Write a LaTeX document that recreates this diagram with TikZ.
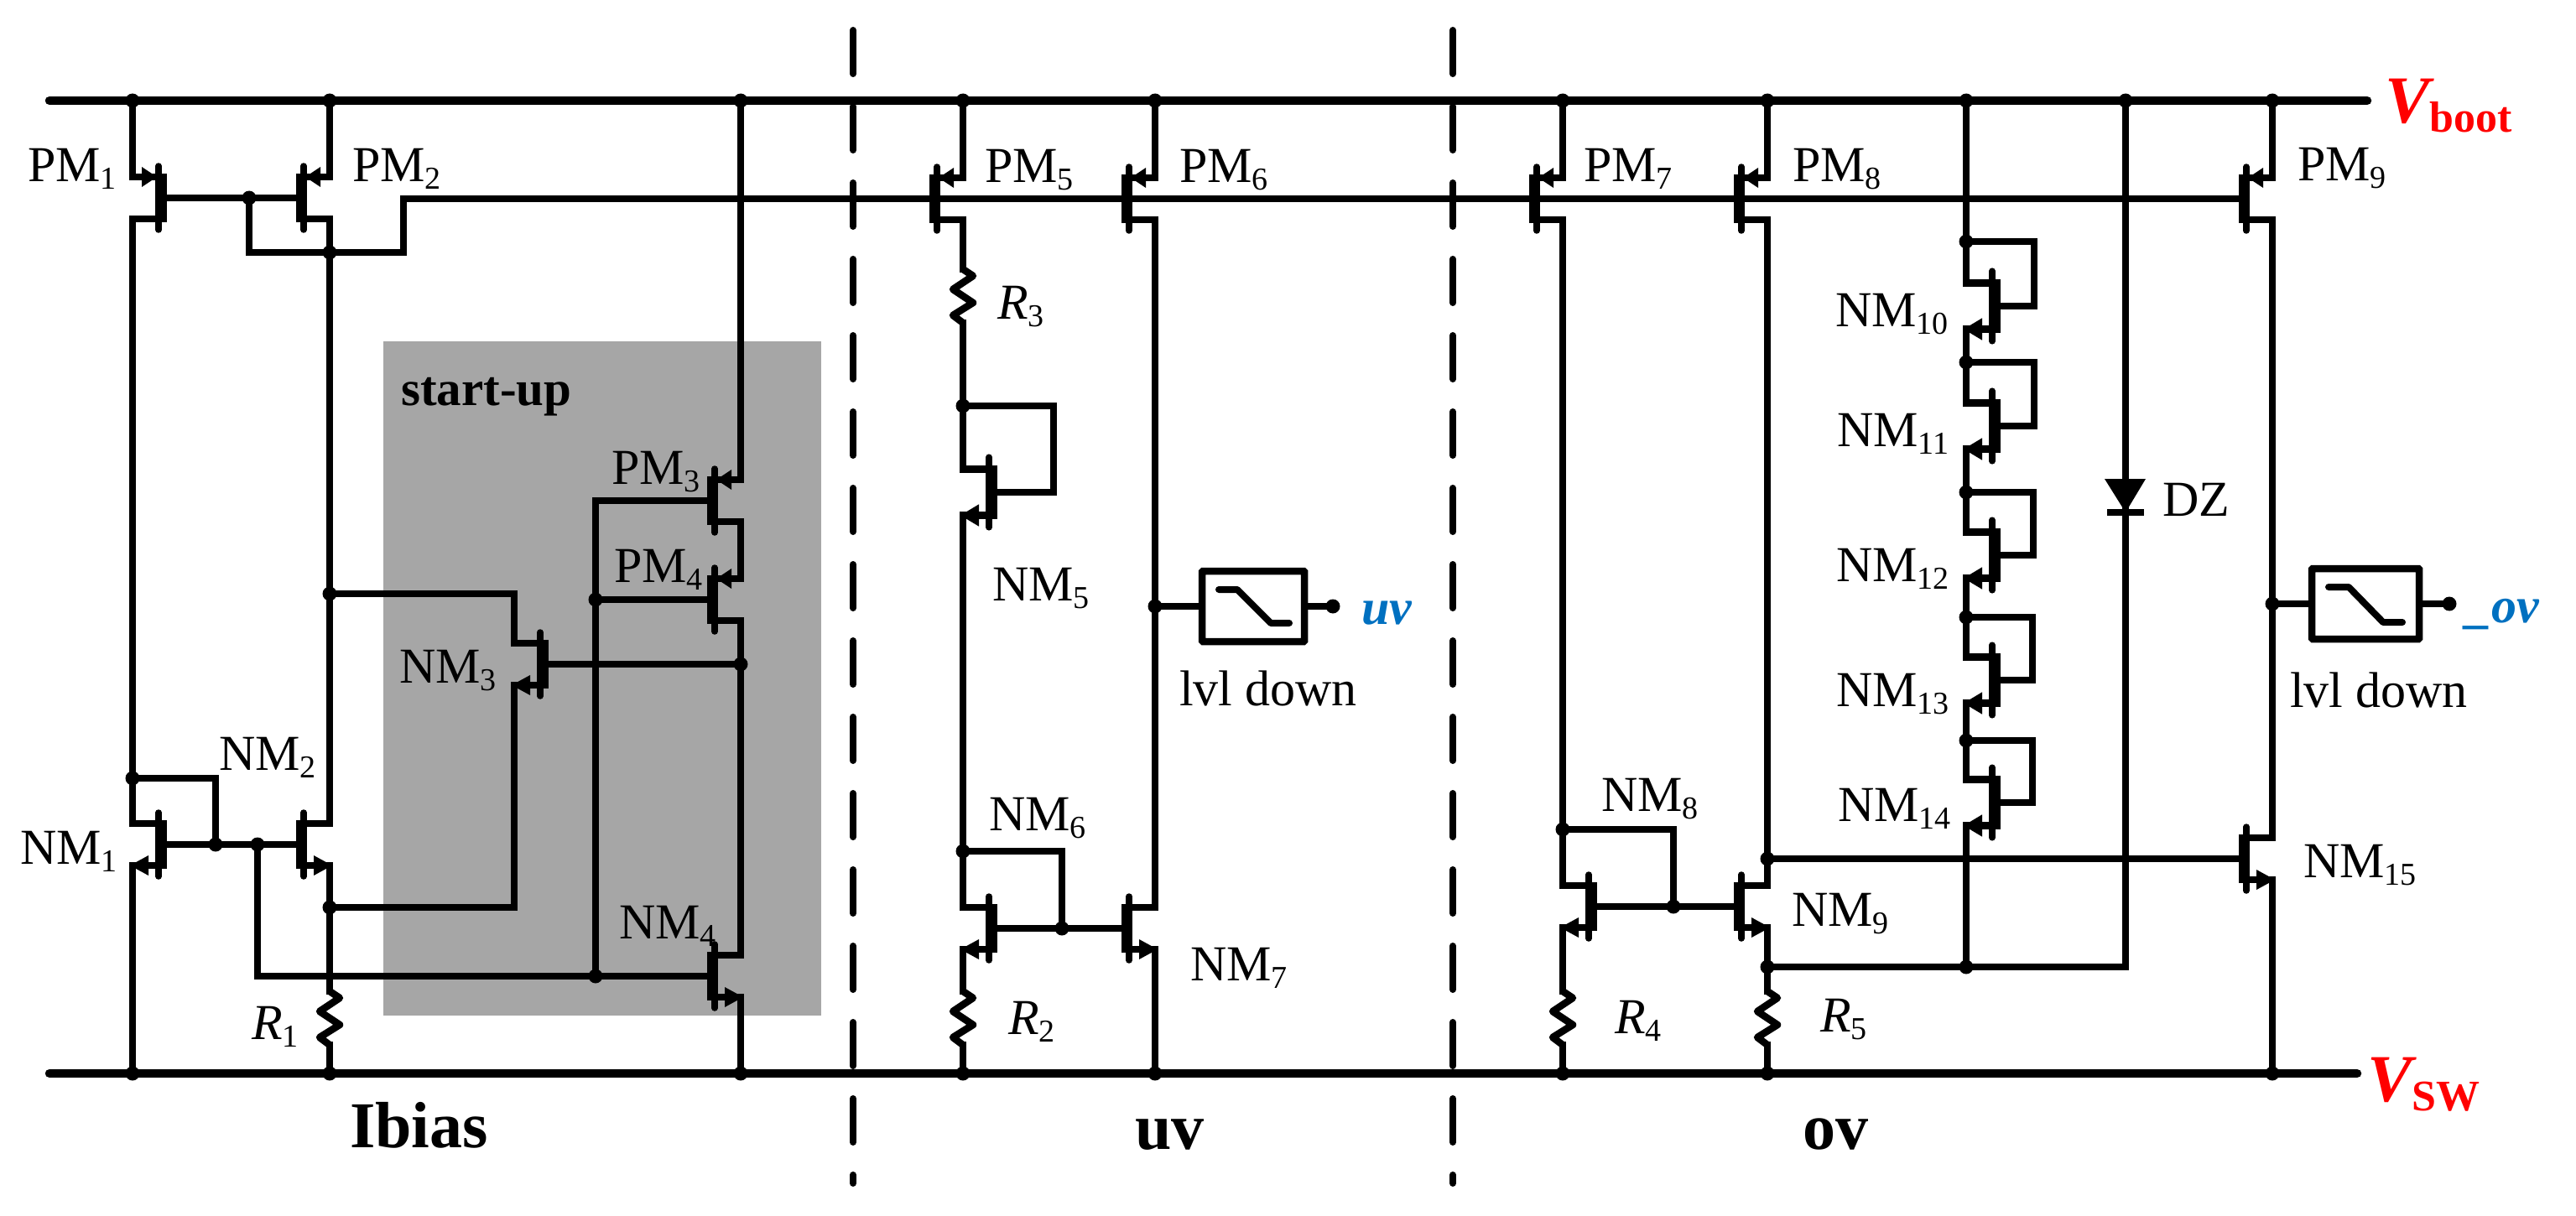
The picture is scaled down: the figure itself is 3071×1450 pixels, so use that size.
\documentclass[tikz,border=0pt]{standalone}
\usepackage{fontspec}
\setmainfont{Liberation Serif}
\definecolor{startgray}{HTML}{A6A6A6}
\definecolor{flagblue}{HTML}{0070C0}

\newcommand{\mosname}[2]{#1\raisebox{-9pt}{\fontsize{38}{38}\selectfont #2}}
\newcommand{\resname}[1]{\textit{R}\raisebox{-9pt}{\fontsize{38}{38}\selectfont #1}}
\newcommand{\railname}[1]{{\fontsize{80}{80}\selectfont\bfseries\itshape V}\raisebox{-11pt}{\fontsize{52}{52}\selectfont\bfseries #1}}

\tikzset{
  wire/.style={line width=8.5pt,line cap=rect,line join=miter},
  rail/.style={line width=10.5pt,line cap=round},
  cut/.style={line width=8pt,line cap=round,dash pattern=on 52pt off 39pt},
  lab/.style={anchor=base west,inner sep=0pt,font=\fontsize{60}{60}\selectfont},
  part/.style={anchor=base west,inner sep=0pt,font=\fontsize{78}{78}\selectfont\bfseries},
  flag/.style={lab,text=flagblue,font=\fontsize{60}{60}\selectfont\bfseries\itshape},
  lvlbox/.style={draw,line width=8.5pt,minimum width=122pt,minimum height=84pt,inner sep=0pt,rounded corners=1pt},
  lvlsym/.style={line width=8pt,line cap=round,line join=round},
  pmosr/.pic={
    \draw[line width=7.5pt,line cap=round] (-31,-38) -- (-31,38);
    \draw[line width=13pt] (-34,-29) -- (-34,29);
    \draw[wire] (-31,-25) -- (0,-25);
    \draw[wire] (-31,25) -- (0,25);
    \fill (-29,-25) -- (-11,-37) -- (-11,-13) -- cycle;
    \coordinate (-g) at (-34,0);
    \coordinate (-s) at (0,-25);
    \coordinate (-d) at (0,25);
  },
  nmosr/.pic={
    \draw[line width=7.5pt,line cap=round] (-31,-38) -- (-31,38);
    \draw[line width=13pt] (-34,-29) -- (-34,29);
    \draw[wire] (-31,-25) -- (0,-25);
    \draw[wire] (-31,25) -- (-10,25);
    \fill (3,25) -- (-19,13) -- (-19,37) -- cycle;
    \coordinate (-g) at (-34,0);
    \coordinate (-d) at (0,-25);
    \coordinate (-s) at (0,25);
  },
  resv/.pic={
    \draw[line width=8.5pt,line join=round] (0,-32) -- (12,-24) -- (-12,-8) -- (12,8) -- (-12,23) -- (0,32);
    \coordinate (-t) at (0,-32);
    \coordinate (-b) at (0,32);
  },
}

\begin{document}
\begin{tikzpicture}[x=1pt,y=-1pt]
\useasboundingbox (0,0) rectangle (3071,1450);

% start-up area
\fill[startgray] (457,407) rectangle (979,1211);

% rails
\coordinate (bootL) at (59,120);
\coordinate (bootR) at (2822,120);
\coordinate (swL) at (59,1280);
\coordinate (swR) at (2810,1280);
\draw[rail] (bootL) -- (bootR);
\draw[rail] (swL) -- (swR);
\foreach \n/\x in {1/158,2/393,3/883,5/1148,6/1377,7/1863,8/2107,9/2344,10/2534,11/2709}{
  \coordinate (top\n) at (\x,120);
  \coordinate (bot\n) at (\x,1280);
}

% section cuts
\coordinate (cutAt) at (1017,36);
\coordinate (cutAb) at (1017,1411);
\coordinate (cutBt) at (1732,36);
\coordinate (cutBb) at (1732,1411);
\draw[cut] (cutAt) -- (cutAb);
\draw[cut] (cutBt) -- (cutBb);

% transistors
\pic[xscale=-1] (PM1) at (158,236) {pmosr};
\pic (PM2) at (393,236) {pmosr};
\pic (PM3) at (883,597) {pmosr};
\pic (PM4) at (883,715) {pmosr};
\pic (PM5) at (1148,237) {pmosr};
\pic (PM6) at (1377,237) {pmosr};
\pic (PM7) at (1863,237) {pmosr};
\pic (PM8) at (2107,237) {pmosr};
\pic (PM9) at (2709,237) {pmosr};

\pic[xscale=-1] (NM1) at (158,1007) {nmosr};
\pic (NM2) at (393,1007) {nmosr};
\pic[xscale=-1] (NM3) at (613,792) {nmosr};
\pic (NM4) at (883,1164) {nmosr};
\pic[xscale=-1,yscale=1.1] (NM5) at (1148,587) {nmosr};
\pic[xscale=-1] (NM6) at (1148,1107) {nmosr};
\pic (NM7) at (1377,1107) {nmosr};
\pic[xscale=-1] (NM8) at (1863,1081) {nmosr};
\pic (NM9) at (2107,1081) {nmosr};
\pic[xscale=-1,yscale=1.1] (NM10) at (2344,365) {nmosr};
\pic[xscale=-1,yscale=1.1] (NM11) at (2344,508) {nmosr};
\pic[xscale=-1,yscale=1.1] (NM12) at (2344,662) {nmosr};
\pic[xscale=-1,yscale=1.1] (NM13) at (2344,811) {nmosr};
\pic[xscale=-1,yscale=1.1] (NM14) at (2344,957) {nmosr};
\pic (NM15) at (2709,1024) {nmosr};

% resistors
\pic (R1) at (393,1214) {resv};
\pic (R2) at (1148,1214) {resv};
\pic (R3) at (1148,353) {resv};
\pic (R4) at (1863,1214) {resv};
\pic (R5) at (2107,1214) {resv};

% junctions
\coordinate (jg1) at (297,236);
\coordinate (jd2) at (393,301);
\coordinate (gbus) at (481,237);
\coordinate (jn1) at (158,928);
\coordinate (jn1g) at (257,1007);
\coordinate (jn2g) at (307,1007);
\coordinate (jn3d) at (393,708);
\coordinate (jn3s) at (393,1082);
\coordinate (jn3g) at (883,792);
\coordinate (jp4) at (710,715);
\coordinate (jn4) at (710,1164);
\coordinate (ju5) at (1148,484);
\coordinate (ju5g) at (1256,484);
\coordinate (ju6) at (1148,1015);
\coordinate (ju7) at (1266,1107);
\coordinate (ju8) at (1377,723);
\coordinate (jo1) at (1863,989);
\coordinate (jo2) at (1995,1081);
\coordinate (jo3) at (2107,1024);
\coordinate (jo4) at (2107,1153);
\coordinate (jo5) at (2344,1153);
\coordinate (jo6) at (2709,720);

% Ibias
\draw[wire] (top1) -- (PM1-s);
\draw[wire] (top2) -- (PM2-s);
\draw[wire] (PM1-g) -- (PM2-g);
\draw[wire] (jg1) |- (jd2) -| (gbus) -- (PM9-g);
\draw[wire] (PM1-d) -- (NM1-d);
\draw[wire] (PM2-d) -- (NM2-d);
\draw[wire] (jn1) -| (jn1g);
\draw[wire] (NM1-g) -- (NM2-g);
\draw[wire] (jn2g) |- (NM4-g);
\draw[wire] (NM1-s) -- (bot1);
\draw[wire] (NM2-s) -- (R1-t);
\draw[wire] (R1-b) -- (bot2);
\draw[wire] (jn3d) -| (NM3-d);
\draw[wire] (jn3s) -| (NM3-s);
\draw[wire] (top3) -- (PM3-s);
\draw[wire] (PM3-d) -- (PM4-s);
\draw[wire] (PM4-d) -- (NM4-d);
\draw[wire] (NM4-s) -- (bot3);
\draw[wire] (NM3-g) -- (jn3g);
\draw[wire] (PM3-g) -| (jn4);
\draw[wire] (jp4) -- (PM4-g);

% uv
\draw[wire] (top5) -- (PM5-s);
\draw[wire] (top6) -- (PM6-s);
\draw[wire] (PM5-d) -- (R3-t);
\draw[wire] (R3-b) -- (NM5-d);
\draw[wire] (ju5) -- (ju5g) |- (NM5-g);
\draw[wire] (NM5-s) -- (NM6-d);
\draw[wire] (ju6) -| (ju7);
\draw[wire] (NM6-g) -- (NM7-g);
\draw[wire] (NM6-s) -- (R2-t);
\draw[wire] (R2-b) -- (bot5);
\draw[wire] (NM7-s) -- (bot6);
\draw[wire] (PM6-d) -- (NM7-d);
\node[lvlbox] (LV1) at (1494,723) {};
\coordinate (out1) at (1589,723);
\draw[wire] (ju8) -- (LV1.west);
\draw[wire] (LV1.east) -- (out1);
\draw[lvlsym] ([shift={(-41,-20)}]LV1.center) -- ++(22,0) -- ++(40,40) -- ++(22,0);

% ov
\draw[wire] (top7) -- (PM7-s);
\draw[wire] (top8) -- (PM8-s);
\draw[wire] (PM7-d) -- (NM8-d);
\draw[wire] (jo1) -| (jo2);
\draw[wire] (NM8-g) -- (NM9-g);
\draw[wire] (NM8-s) -- (R4-t);
\draw[wire] (R4-b) -- (bot7);
\draw[wire] (PM8-d) -- (NM9-d);
\draw[wire] (jo3) -- (NM15-g);
\draw[wire] (NM9-s) -- (R5-t);
\draw[wire] (R5-b) -- (bot8);
\draw[wire] (jo4) -| (top10);
\draw[wire] (top9) -- (NM10-d);
\draw[wire] (NM10-s) -- (NM11-d);
\draw[wire] (NM11-s) -- (NM12-d);
\draw[wire] (NM12-s) -- (NM13-d);
\draw[wire] (NM13-s) -- (NM14-d);
\draw[wire] (NM14-s) -- (jo5);
\foreach \n/\y/\xl in {10/288/2425,11/432/2425,12/587/2424,13/736/2423,14/883/2423}{
  \coordinate (js\n) at (2344,\y);
  \coordinate (jl\n) at (\xl,\y);
  \draw[wire] (js\n) -- (jl\n) |- (NM\n-g);
  \fill (js\n) circle (8.5pt);
}
\draw[wire] (top11) -- (PM9-s);
\draw[wire] (PM9-d) -- (NM15-d);
\draw[wire] (NM15-s) -- (bot11);
\node[lvlbox,minimum width=128pt] (LV2) at (2820,720) {};
\coordinate (out2) at (2920,720);
\draw[wire] (jo6) -- (LV2.west);
\draw[wire] (LV2.east) -- (out2);
\draw[lvlsym] ([shift={(-44,-20)}]LV2.center) -- ++(24,0) -- ++(41,42) -- ++(23,0);

% diode
\coordinate (dz) at (2534,591);
\fill (2509,571) -- (2558,571) -- (2534,611) -- cycle;
\draw[line width=8pt] (2512,611) -- (2556,611);

% dots
\foreach \p in {top1,top2,top3,top5,top6,top7,top8,top9,top10,top11,
                bot1,bot2,bot3,bot5,bot6,bot7,bot8,bot11,
                jg1,jd2,jn1,jn1g,jn2g,jn3d,jn3s,jn3g,jp4,jn4,
                ju5,ju6,ju7,ju8,out1,jo1,jo2,jo3,jo4,jo5,jo6,out2}{
  \fill (\p) circle (8.5pt);
}

% labels
\node[lab] (lPM1) at (33,217) {\mosname{PM}{1}};
\node[lab] (lPM2) at (420,217) {\mosname{PM}{2}};
\node[lab] (lPM3) at (729,577) {\mosname{PM}{3}};
\node[lab] (lPM4) at (732,694) {\mosname{PM}{4}};
\node[lab] (lPM5) at (1174,218) {\mosname{PM}{5}};
\node[lab] (lPM6) at (1406,218) {\mosname{PM}{6}};
\node[lab] (lPM7) at (1888,217) {\mosname{PM}{7}};
\node[lab] (lPM8) at (2137,217) {\mosname{PM}{8}};
\node[lab] (lPM9) at (2739,216) {\mosname{PM}{9}};
\node[lab] (lNM1) at (24,1030) {\mosname{NM}{1}};
\node[lab] (lNM2) at (261,918) {\mosname{NM}{2}};
\node[lab] (lNM3) at (476,814) {\mosname{NM}{3}};
\node[lab] (lNM4) at (738,1119) {\mosname{NM}{4}};
\node[lab] (lNM5) at (1183,716) {\mosname{NM}{5}};
\node[lab] (lNM6) at (1179,990) {\mosname{NM}{6}};
\node[lab] (lNM7) at (1419,1169) {\mosname{NM}{7}};
\node[lab] (lNM8) at (1909,967) {\mosname{NM}{8}};
\node[lab] (lNM9) at (2136,1104) {\mosname{NM}{9}};
\node[lab] (lNM10) at (2188,389) {\mosname{NM}{10}};
\node[lab] (lNM11) at (2190,532) {\mosname{NM}{11}};
\node[lab] (lNM12) at (2189,693) {\mosname{NM}{12}};
\node[lab] (lNM13) at (2189,842) {\mosname{NM}{13}};
\node[lab] (lNM14) at (2191,979) {\mosname{NM}{14}};
\node[lab] (lNM15) at (2746,1046) {\mosname{NM}{15}};
\node[lab] (lR1) at (300,1239) {\resname{1}};
\node[lab] (lR2) at (1202,1233) {\resname{2}};
\node[lab] (lR3) at (1189,380) {\resname{3}};
\node[lab] (lR4) at (1925,1232) {\resname{4}};
\node[lab] (lR5) at (2170,1230) {\resname{5}};
\node[lab] (lDZ) at (2578,615) {DZ};
\node[lab] (lLV1) at (1406,841) {lvl down};
\node[lab] (lLV2) at (2730,843) {lvl down};
\node[flag] (fuv) at (1623,744) {uv};
\node[flag] (fov) at (2940,742) {\_ov};
\node[lab,font=\fontsize{59}{59}\selectfont\bfseries] (lstart) at (478,483) {start-up};
\node[part] (pIbias) at (417,1368) {Ibias};
\node[part] (puv) at (1353,1370) {uv};
\node[part] (pov) at (2149,1370) {ov};
\node[lab,text=red] (lboot) at (2843,147) {\railname{boot}};
\node[lab,text=red] (lsw) at (2822,1313) {\railname{SW}};

\end{tikzpicture}
\end{document}
